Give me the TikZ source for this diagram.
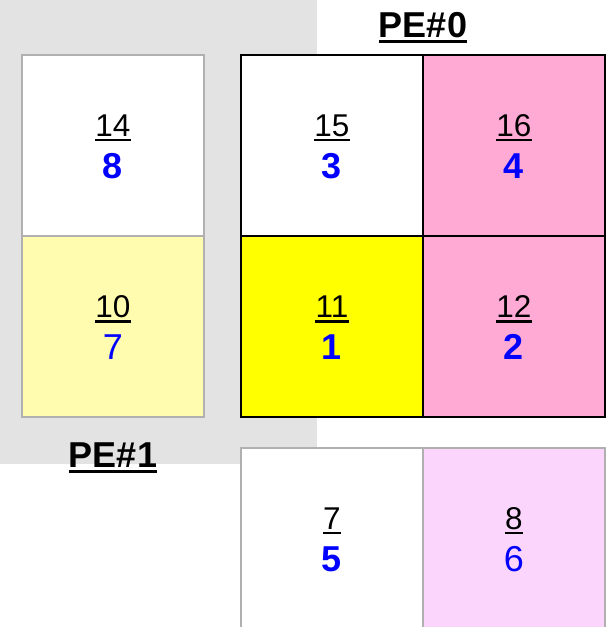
\documentclass[tikz,border=0pt]{standalone}
\usepackage{fontspec}
\setmainfont{Liberation Sans}
\definecolor{bgGrey}{HTML}{E3E3E3}
\definecolor{cellGrey}{HTML}{B0B0B0}
\definecolor{lightYellow}{HTML}{FFFBAF}
\definecolor{brightYellow}{HTML}{FFFF00}
\definecolor{pinkCell}{HTML}{FFAAD5}
\definecolor{lightPink}{HTML}{FCD5FC}
\definecolor{numBlue}{HTML}{0000FF}
\tikzset{
  cellbox/.style={rectangle, minimum width=182pt, minimum height=181pt, inner sep=0pt, line width=2pt},
  greycell/.style={cellbox, draw=cellGrey},
  blackcell/.style={cellbox, draw=black},
  topnum/.style={anchor=base, inner sep=0pt, font=\fontsize{31.5}{31.5}\selectfont},
  botnum/.style={anchor=base, inner sep=0pt, text=numBlue, font=\fontsize{36}{36}\selectfont\bfseries},
  botnumlight/.style={anchor=base, inner sep=0pt, text=numBlue, font=\fontsize{36}{36}\selectfont},
  pelabel/.style={anchor=base, inner sep=0pt, font=\fontsize{36}{36}\selectfont\bfseries},
  numline/.style={line width=2.2pt},
}
\begin{document}
\begin{tikzpicture}[x=1pt,y=-1pt]
\useasboundingbox (0,0) rectangle (607,627);
\clip (0,0) rectangle (607,627);
\fill[bgGrey] (0,0) rectangle (317,464);
% left column (PE#1)
\node[greycell, fill=white] (c14) at (113,145) {};
\node[greycell, fill=lightYellow] (c10) at (113,326.5) {};
% PE#0 grid
\node[blackcell, fill=white] (c15) at (332,145) {};
\node[blackcell, fill=pinkCell] (c16) at (514,145) {};
\node[blackcell, fill=brightYellow] (c11) at (332,326.5) {};
\node[blackcell, fill=pinkCell] (c12) at (514,326.5) {};
% bottom row
\node[greycell, fill=white] (c7) at (332,538) {};
\node[greycell, fill=lightPink] (c8) at (514,538) {};
% numbers
\foreach \c/\t/\b/\s in {c14/14/8/botnum, c10/10/7/botnumlight, c15/15/3/botnum, c16/16/4/botnum, c11/11/1/botnum, c12/12/2/botnum, c7/7/5/botnum, c8/8/6/botnumlight}{
  \node[topnum] (t\c) at ([yshift=9pt]\c.center) {\t};
  \draw[numline] ([yshift=-4pt]t\c.base west) -- ([yshift=-4pt]t\c.base east);
  \node[\s] (b\c) at ([yshift=-33pt]\c.center) {\b};
}
% PE labels
\node[pelabel] (pe0) at (423,37) {PE\#0};
\draw[line width=3pt] ([yshift=-4.5pt]pe0.base west) -- ([yshift=-4.5pt]pe0.base east);
\node[pelabel] (pe1) at (113,467) {PE\#1};
\draw[line width=3pt] ([yshift=-4.5pt]pe1.base west) -- ([yshift=-4.5pt]pe1.base east);
\end{tikzpicture}
\end{document}
